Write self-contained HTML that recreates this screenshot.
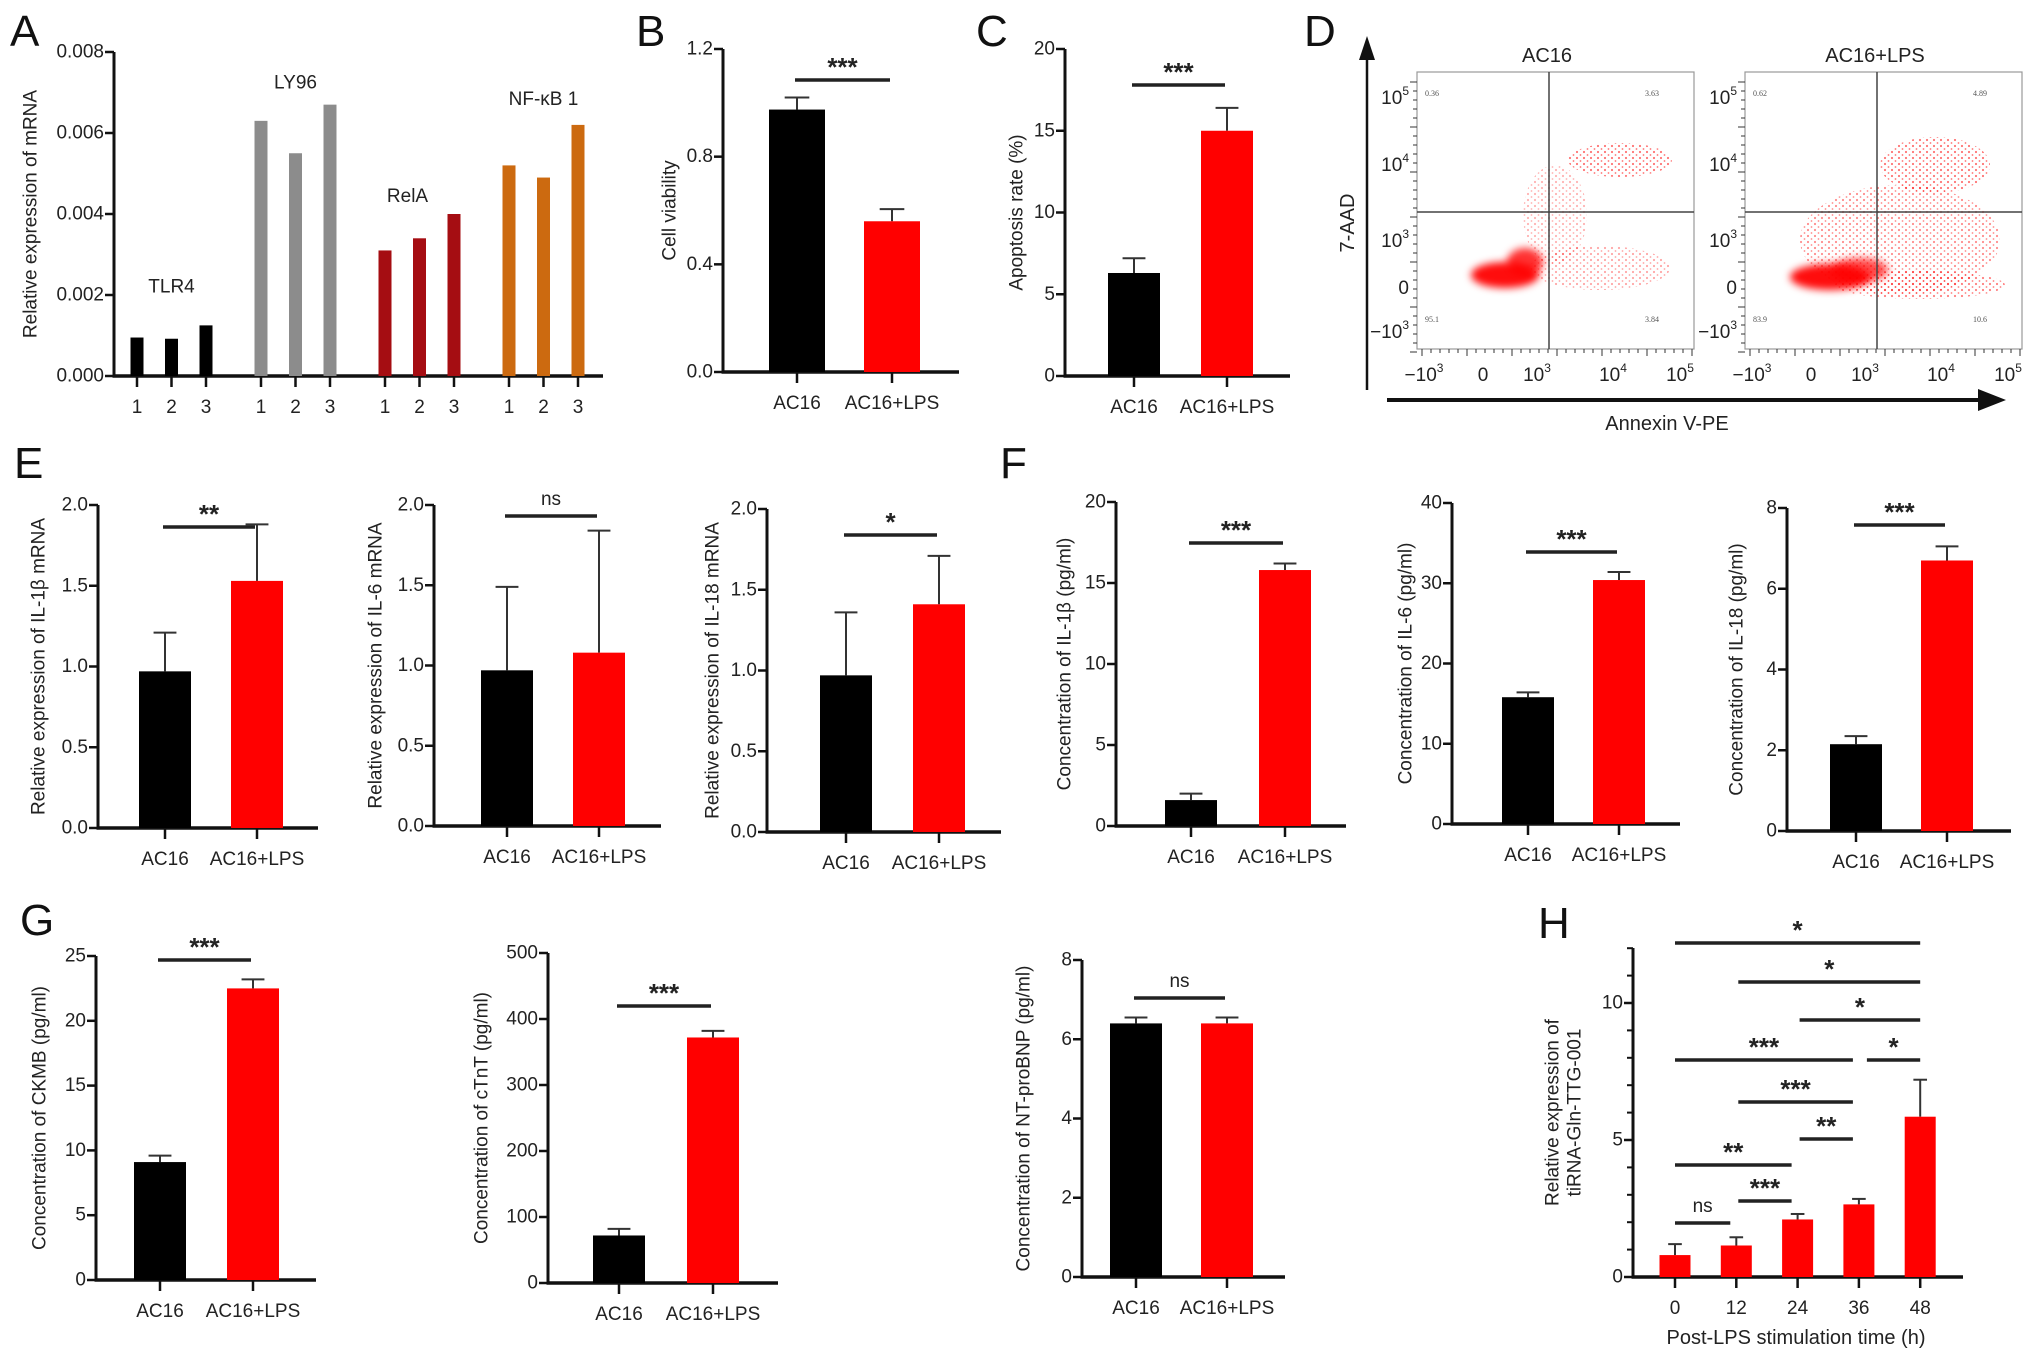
<!DOCTYPE html>
<html><head><meta charset="utf-8"><style>
html,body{margin:0;padding:0;background:#fff;}
svg{display:block;font-family:"Liberation Sans Narrow","Liberation Sans",sans-serif;}
</style></head><body>
<svg id="fig" width="2032" height="1362" viewBox="0 0 2032 1362" xmlns="http://www.w3.org/2000/svg">
<defs><filter id="blur" x="-50%" y="-50%" width="200%" height="200%"><feGaussianBlur stdDeviation="4"/></filter>
<pattern id="dots" width="7" height="6" patternUnits="userSpaceOnUse"><circle cx="2" cy="2" r="1.1" fill="#ff0000"/><circle cx="5.5" cy="5" r="0.9" fill="#ff0000"/></pattern></defs>
<rect x="0" y="0" width="2032" height="1362" fill="#fff"/>
<g font-family="Liberation Sans, sans-serif" font-size="44" fill="#111">
<text x="10" y="46">A</text>
<text x="636" y="46">B</text>
<text x="976" y="46">C</text>
<text x="1304" y="46">D</text>
<text x="14" y="478">E</text>
<text x="1000" y="478">F</text>
<text x="20" y="935">G</text>
<text x="1538" y="938">H</text>
</g>

<g id="flow">
<line x1="1367" y1="390" x2="1367" y2="55" stroke="#111" stroke-width="2.5"/>
<polygon points="1367,36 1359,60 1375,60" fill="#111"/>
<line x1="1387" y1="400" x2="1980" y2="400" stroke="#111" stroke-width="4"/>
<polygon points="2006,400 1978,389 1978,411" fill="#111"/>
<text x="1348" y="223" font-size="20" fill="#222" text-anchor="middle" dominant-baseline="central" transform="rotate(-90 1348 223)">7-AAD</text>
<text x="1667" y="430" font-size="20" fill="#222" text-anchor="middle">Annexin V-PE</text>
</g>

<g id="charts"></g>
</svg>
<script>
// ---------- Panel A data ----------
const aGenes=['TLR4','LY96','RelA','NF-κB 1'];
const aReplicates=['1','2','3'];
const aTLR4=[0.00095,0.00092,0.00125];
const aLY96=[0.0063,0.0055,0.0067];
const aRelA=[0.0031,0.0034,0.0040];
const aNFKB1=[0.0052,0.0049,0.0062];
const aTicks=[0,0.002,0.004,0.006,0.008];
const aTickLabels=['0.000','0.002','0.004','0.006','0.008'];

// ---------- Two-group charts ----------
const groupCats=['AC16','AC16+LPS'];
const bVals=[0.975,0.56]; const bErrs=[0.045,0.045];
const bTicks=[0,0.4,0.8,1.2]; const bTickLabels=['0.0','0.4','0.8','1.2'];
const cVals=[6.3,15.0]; const cErrs=[0.9,1.4];
const cTicks=[0,5,10,15,20]; const cTickLabels=['0','5','10','15','20'];
const e1Vals=[0.97,1.53]; const e1Errs=[0.24,0.35];
const e2Vals=[0.97,1.08]; const e2Errs=[0.52,0.76];
const e3Vals=[0.97,1.41]; const e3Errs=[0.39,0.30];
const eTicks=[0,0.5,1.0,1.5,2.0]; const eTickLabels=['0.0','0.5','1.0','1.5','2.0'];
const f1Vals=[1.6,15.8]; const f1Errs=[0.4,0.4];
const f1Ticks=[0,5,10,15,20]; const f1TickLabels=['0','5','10','15','20'];
const f2Vals=[15.8,30.4]; const f2Errs=[0.6,1.0];
const f2Ticks=[0,10,20,30,40]; const f2TickLabels=['0','10','20','30','40'];
const f3Vals=[2.15,6.7]; const f3Errs=[0.2,0.35];
const f3Ticks=[0,2,4,6,8]; const f3TickLabels=['0','2','4','6','8'];
const g1Vals=[9.1,22.5]; const g1Errs=[0.5,0.7];
const g1Ticks=[0,5,10,15,20,25]; const g1TickLabels=['0','5','10','15','20','25'];
const g2Vals=[72,372]; const g2Errs=[10,10];
const g2Ticks=[0,100,200,300,400,500]; const g2TickLabels=['0','100','200','300','400','500'];
const g3Vals=[6.4,6.4]; const g3Errs=[0.15,0.15];
const g3Ticks=[0,2,4,6,8]; const g3TickLabels=['0','2','4','6','8'];

// ---------- Panel H data ----------
const hTimes=['0','12','24','36','48'];
const hVals=[0.8,1.15,2.1,2.65,5.85];
const hErrs=[0.4,0.3,0.2,0.2,1.35];
const hTicks=[0,5,10]; const hTickLabels=['0','5','10'];
const hSigLabels=['*','*','*','***','*','***','**','**','***','ns'];
const hSigFrom=[0,1,2,0,3,1,2,0,1,0];
const hSigTo=[4,4,4,3,4,3,3,2,2,1];

const NS='http://www.w3.org/2000/svg';
const root=document.getElementById('charts');
function mk(tag,parent){const e=document.createElementNS(NS,tag);(parent||root).appendChild(e);return e;}
function setA(e,o){for(const k in o)e.setAttribute(k,o[k]);}
const TXT='#222';

function drawAxes(g,L,ticks,labels,ymax,minorStep){
  const y=v=>L.y0-(v/ymax)*(L.y0-L.yTop);
  const ya=mk('line',g);setA(ya,{x1:L.ax,y1:L.y0+1.5,x2:L.ax,y2:L.yTop,stroke:'#111','stroke-width':3});
  
  
  const xa=mk('line',g);setA(xa,{x1:L.ax-1.5,y1:L.y0,x2:L.axEnd,y2:L.y0,stroke:'#111','stroke-width':3.5});
  
  
  if(minorStep){for(let v=minorStep;v<ymax+1e-9;v+=minorStep){const m=mk('line',g);setA(m,{x1:L.ax-6,y1:y(v),x2:L.ax,y2:y(v),stroke:'#111','stroke-width':2});
    
    }}
  ticks.forEach((t,i)=>{
    const tk=mk('line',g);setA(tk,{x1:L.ax-9,y1:y(t),x2:L.ax,y2:y(t),stroke:'#111','stroke-width':2.5});
    
    
    const tl=mk('text',g);setA(tl,{x:L.ax-10,y:y(t),'text-anchor':'end','dominant-baseline':'central','font-size':19,fill:TXT});
    tl.textContent=labels[i];
    
    
  });
  if(L.title){
    const lines=Array.isArray(L.title)?L.title:[L.title];
    lines.forEach((s,i)=>{
      const tx=L.titleX+i*22, ty=(L.y0+L.yTop)/2+(L.titleDy||0);
      const tt=mk('text',g);setA(tt,{x:tx,y:ty,'text-anchor':'middle','dominant-baseline':'central','font-size':19,fill:TXT,'font-family':'Liberation Sans, sans-serif',transform:`rotate(-90 ${tx} ${ty})`});
      tt.textContent=s;
      
      
    });
  }
  return y;
}

function drawBars(g,L,cats,vals,errs,colors,y){
  const cx=i=>L.ax+L.first+i*L.step;
  vals.forEach((v,i)=>{
    const c=cx(i);
    if(errs){
      const top=y(v+errs[i]);
      const el=mk('line',g);setA(el,{x1:c,y1:y(v),x2:c,y2:top,stroke:'#333','stroke-width':2});
      
      
      const cap=mk('line',g);setA(cap,{x1:c-L.bw*0.22,y1:top,x2:c+L.bw*0.22,y2:top,stroke:'#333','stroke-width':2});
      
      
    }
    const r=mk('rect',g);setA(r,{x:c-L.bw/2,y:y(v),width:L.bw,height:L.y0-y(v),fill:colors[i%colors.length]});
    
    
    const xt=mk('line',g);setA(xt,{x1:c,y1:L.y0,x2:c,y2:L.y0+11,stroke:'#111','stroke-width':2.5});
    
    
    const xl=mk('text',g);setA(xl,{x:c,y:L.y0+37,'text-anchor':'middle','font-size':19,fill:TXT});
    xl.textContent=cats[i];
    
    
  });
  return cx;
}

function drawSig(g,x1,x2,ly,label){
  const l=mk('line',g);setA(l,{x1:x1,y1:ly,x2:x2,y2:ly,stroke:'#222','stroke-width':3.5});
  
  
  const t=mk('text',g);
  const ns=label==='ns';
  setA(t,{x:(x1+x2)/2,y:ns?ly-11:ly-4,'text-anchor':'middle','font-size':ns?19:26,fill:'#222','font-weight':ns?'normal':'bold'});
  t.textContent=label;
  
  
}

function twoGroup(name,L,vals,errs,ticks,labels,sigY,sigLabel){
  const g=mk('g');
  
  
  const ymax=ticks[ticks.length-1];
  const y=drawAxes(g,L,ticks,labels,ymax);
  const cx=drawBars(g,L,groupCats,vals,errs,['#000','#ff0000'],y);
  drawSig(g,cx(0)-2,cx(1)-2,sigY,sigLabel);
}

// ---------- Panel A ----------
(function(){
  const L={ax:114,y0:376,yTop:52,axEnd:603,title:'Relative expression of mRNA',titleX:31};
  const g=mk('g');
  
  
  const y=drawAxes(g,L,aTicks,aTickLabels,0.008);
  const series=[aTLR4,aLY96,aRelA,aNFKB1];
  const colors=['#000','#8c8c8c','#a50d12','#cc6a10'];
  const labelGap=[33,16,12,20];
  series.forEach((s,gi)=>{
    let maxV=0;
    s.forEach((v,ri)=>{
      const c=L.ax+23+gi*124+ri*34.5;
      maxV=Math.max(maxV,v);
      const r=mk('rect',g);setA(r,{x:c-6.5,y:y(v),width:13,height:L.y0-y(v),fill:colors[gi]});
      
      
      const t=mk('line',g);setA(t,{x1:c,y1:L.y0,x2:c,y2:L.y0+11,stroke:'#111','stroke-width':2.5});
      
      
      const tl=mk('text',g);setA(tl,{x:c,y:L.y0+37,'text-anchor':'middle','font-size':19,fill:TXT});
      tl.textContent=aReplicates[ri];
      
      
    });
    const gl=mk('text',g);setA(gl,{x:L.ax+23+gi*124+34.5+(gi===2?-12:0),y:y(maxV)-labelGap[gi],'text-anchor':'middle','font-size':19,fill:TXT});
    gl.textContent=aGenes[gi];
    
    
  });
})();

twoGroup('panel-b-chart',{ax:723,y0:372,yTop:49,axEnd:959,first:74,step:95,bw:56,title:'Cell viability',titleX:670},bVals,bErrs,bTicks,bTickLabels,80,'***');
twoGroup('panel-c-chart',{ax:1065,y0:376,yTop:49,axEnd:1290,first:69,step:93,bw:52,title:'Apoptosis rate (%)',titleX:1017},cVals,cErrs,cTicks,cTickLabels,85,'***');
twoGroup('panel-e1-chart',{ax:98,y0:828,yTop:505,axEnd:318,first:67,step:92,bw:52,title:'Relative expression of IL-1β mRNA',titleX:39},e1Vals,e1Errs,eTicks,eTickLabels,527,'**');
twoGroup('panel-e2-chart',{ax:434,y0:826,yTop:505,axEnd:661,first:73,step:92,bw:52,title:'Relative expression of IL-6 mRNA',titleX:376},e2Vals,e2Errs,eTicks,eTickLabels,516,'ns');
twoGroup('panel-e3-chart',{ax:767,y0:832,yTop:509,axEnd:1001,first:79,step:93,bw:52,title:'Relative expression of IL-18 mRNA',titleX:713},e3Vals,e3Errs,eTicks,eTickLabels,535,'*');
twoGroup('panel-f1-chart',{ax:1116,y0:826,yTop:502,axEnd:1346,first:75,step:94,bw:52,title:'Concentration of IL-1β (pg/ml)',titleX:1065},f1Vals,f1Errs,f1Ticks,f1TickLabels,543,'***');
twoGroup('panel-f2-chart',{ax:1452,y0:824,yTop:503,axEnd:1680,first:76,step:91,bw:52,title:'Concentration of IL-6 (pg/ml)',titleX:1406},f2Vals,f2Errs,f2Ticks,f2TickLabels,552,'***');
twoGroup('panel-f3-chart',{ax:1787,y0:831,yTop:508,axEnd:2011,first:69,step:91,bw:52,title:'Concentration of IL-18 (pg/ml)',titleX:1737},f3Vals,f3Errs,f3Ticks,f3TickLabels,525,'***');
twoGroup('panel-g1-chart',{ax:96,y0:1280,yTop:956,axEnd:316,first:64,step:93,bw:52,title:'Concentration of CKMB (pg/ml)',titleX:40},g1Vals,g1Errs,g1Ticks,g1TickLabels,960,'***');
twoGroup('panel-g2-chart',{ax:548,y0:1283,yTop:953,axEnd:778,first:71,step:94,bw:52,title:'Concentration of cTnT (pg/ml)',titleX:482},g2Vals,g2Errs,g2Ticks,g2TickLabels,1006,'***');
twoGroup('panel-g3-chart',{ax:1082,y0:1277,yTop:960,axEnd:1285,first:54,step:91,bw:52,title:'Concentration of NT-proBNP (pg/ml)',titleX:1024},g3Vals,g3Errs,g3Ticks,g3TickLabels,998,'ns');

// ---------- Panel H ----------
(function(){
  const L={ax:1633,y0:1277,yTop:948,axEnd:1963,first:42,step:61.3,bw:31,title:['Relative expression of','tiRNA-Gln-TTG-001'],titleX:1553};
  const g=mk('g');
  
  
  const ymax=10*(L.y0-L.yTop)/(1277-1003);
  const y=drawAxes(g,L,hTicks,hTickLabels,ymax,1);
  const cx=drawBars(g,L,hTimes,hVals,hErrs,['#ff0000'],y);
  const sigY=[943,982,1020,1060,1060,1102,1139,1165,1201,1223];
  hSigLabels.forEach((lab,i)=>{
    const a=hSigFrom[i],b=hSigTo[i];
    const x2=b===hTimes.length-1?cx(b):cx(b)-6;
    const x1=(i===4)?cx(a)+8:cx(a)+(a===0?0:2);
    drawSig(g,x1,x2,sigY[i],lab);
  });
  const xt=mk('text',g);setA(xt,{x:1796,y:1344,'text-anchor':'middle','font-size':20,fill:TXT});
  xt.textContent='Post-LPS stimulation time (h)';
  
  
})();

// ---------- Panel D flow plots ----------
(function(){
  const flow=document.getElementById('flow');
  const TOP=72,BOT=349,W=277,QX=132,QY=212;
  const plots=[{x:1417,title:'AC16',q:['0.36','3.63','95.1','3.84'],
      dense:[[1505,275,34,13,0.95],[1525,262,18,14,0.8]],
      sparse:[[1620,160,52,17,0.55],[1600,268,70,22,0.35],[1555,215,32,50,0.3]]},
    {x:1745,title:'AC16+LPS',q:['0.62','4.89','83.9','10.6'],
      dense:[[1830,277,40,13,0.95],[1860,270,28,12,0.7]],
      sparse:[[1900,240,100,55,0.45],[1935,165,55,28,0.55],[1920,285,85,14,0.5]]}];
  const yT=[['10','5',97],['10','4',164],['10','3',240],['0','',287],['−10','3',331]];
  const xT=[['−10','3',7],['0','',66],['10','3',120],['10','4',196],['10','5',263]];
  plots.forEach((p,pi)=>{
    const g=mk('g',flow);
    
    
    const t=mk('text',g);setA(t,{x:p.x+130,y:62,'text-anchor':'middle','font-size':20,fill:TXT});
    t.textContent=p.title;
    
    
    p.sparse.forEach(c=>{
      const e=mk('ellipse',g);setA(e,{cx:c[0],cy:c[1],rx:c[2],ry:c[3],fill:'url(#dots)','fill-opacity':c[4]});
      
      
    });
    p.dense.forEach(c=>{
      const e=mk('ellipse',g);setA(e,{cx:c[0],cy:c[1],rx:c[2],ry:c[3],fill:'#ff0000','fill-opacity':c[4],filter:'url(#blur)'});
      
      
    });
    const b=mk('rect',g);setA(b,{x:p.x,y:TOP,width:W,height:BOT-TOP,fill:'none',stroke:'#999','stroke-width':1.2});
    
    
    const v=mk('line',g);setA(v,{x1:p.x+QX,y1:TOP,x2:p.x+QX,y2:BOT,stroke:'#444','stroke-width':1.5});
    
    
    const h=mk('line',g);setA(h,{x1:p.x,y1:QY,x2:p.x+W,y2:QY,stroke:'#444','stroke-width':1.5});
    
    
    const qp=[[p.x+8,96,'start'],[p.x+228,96,'start'],[p.x+8,322,'start'],[p.x+228,322,'start']];
    p.q.forEach((s,i)=>{const qt=mk('text',g);setA(qt,{x:qp[i][0],y:qp[i][1],'text-anchor':qp[i][2],'font-size':8,fill:'#555','font-family':'Liberation Serif, serif'});
      qt.textContent=s;
      
      });
    for(let k=0;k<=30;k++){const m=mk('line',g);setA(m,{x1:p.x+5+k*9,y1:BOT,x2:p.x+5+k*9,y2:BOT+(k%5===0?7:4),stroke:'#333','stroke-width':1});
      
      }
    for(let k=0;k<=30;k++){const m=mk('line',g);setA(m,{x1:p.x,y1:TOP+10+k*9,x2:p.x-(k%5===0?7:4),y2:TOP+10+k*9,stroke:'#333','stroke-width':1});
      
      }
    yT.forEach(a=>{const tx=mk('text',g);setA(tx,{x:p.x-8,y:a[2]+7,'text-anchor':'end','font-size':19,fill:TXT});
      tx.textContent=a[0];
      if(a[1]){const s=mk('tspan',tx);setA(s,{dy:-9,'font-size':12});s.textContent=a[1];}
      
      });
    xT.forEach(a=>{const tx=mk('text',g);setA(tx,{x:p.x+a[2],y:381,'text-anchor':'middle','font-size':19,fill:TXT});
      tx.textContent=a[0];
      if(a[1]){const s=mk('tspan',tx);setA(s,{dy:-9,'font-size':12});s.textContent=a[1];}
      
      });
  });
})();
</script>
</body></html>
